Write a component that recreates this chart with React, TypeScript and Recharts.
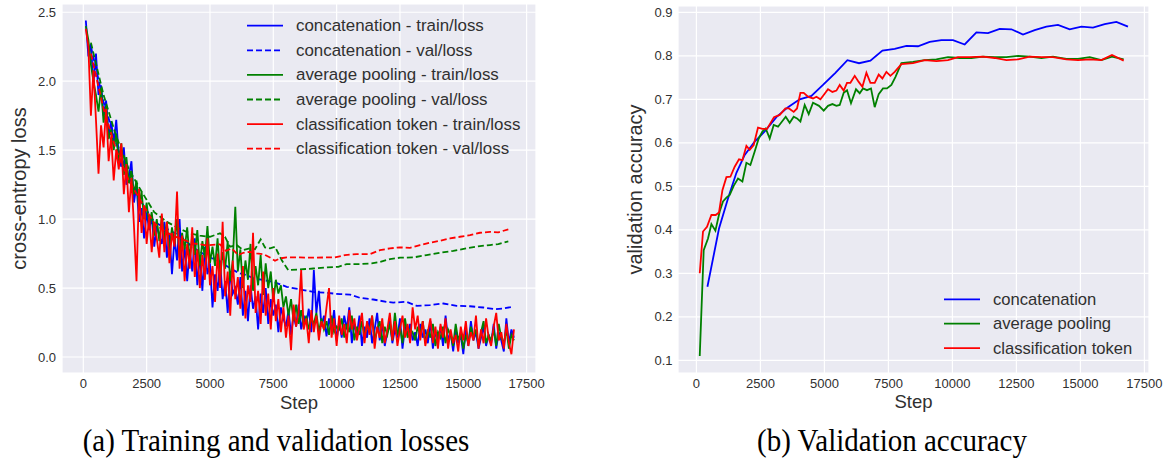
import React from "react";
import { LineChart, Line, XAxis, YAxis, CartesianGrid, Legend } from "recharts";

const BLUE = "#0000ff";
const GREEN = "#008000";
const RED = "#ff0000";
const FONT = "'Liberation Sans', Arial, sans-serif";
const INK = "#303030";

// ---- (a) losses ----
const stepTicks = [0, 2500, 5000, 7500, 10000, 12500, 15000, 17500];
const lossTicks = [0, 0.5, 1.0, 1.5, 2.0, 2.5];
const accTicks = [0.1, 0.2, 0.3, 0.4, 0.5, 0.6, 0.7, 0.8, 0.9];

// train loss is logged every 100 steps
const trainSteps = Array.from({ length: 170 }, (_, i) => (i + 1) * 100);

const concatTrain = [
  2.44, 2.18, 2.27, 1.98, 2.2, 1.9, 1.97, 1.75, 1.86, 1.6,
  1.71, 1.55, 1.72, 1.46, 1.38, 1.52, 1.25, 1.31, 1.42, 1.12,
  1.25, 0.98, 1.08, 0.86, 1.05, 0.92, 1.02, 0.8, 0.95, 0.88,
  0.82, 0.98, 0.72, 0.9, 0.6, 0.86, 0.7, 1.0, 0.62, 0.8,
  0.55, 0.78, 0.62, 0.86, 0.52, 0.74, 0.48, 0.8, 0.6, 0.68,
  0.36, 0.6, 0.48, 0.7, 0.42, 0.55, 0.32, 0.62, 0.46, 0.5,
  0.38, 0.58, 0.3, 0.48, 0.26, 0.52, 0.35, 0.44, 0.2, 0.46,
  0.32, 0.5, 0.24, 0.42, 0.3, 0.38, 0.18, 0.36, 0.28, 0.22,
  0.34, 0.16, 0.3, 0.22, 0.38, 0.2, 0.3, 0.24, 0.35, 0.18,
  0.63, 0.32, 0.48, 0.22, 0.3, 0.15, 0.28, 0.2, 0.34, 0.12,
  0.26, 0.14, 0.3, 0.2, 0.36, 0.1, 0.24, 0.16, 0.3, 0.08,
  0.22, 0.14, 0.28, 0.1, 0.2, 0.32, 0.12, 0.24, 0.08, 0.18,
  0.26, 0.1, 0.2, 0.14, 0.28, 0.06, 0.22, 0.16, 0.24, 0.12,
  0.18, 0.08, 0.24, 0.14, 0.2, 0.1, 0.26, 0.06, 0.18, 0.12,
  0.22, 0.08, 0.3, 0.12, 0.18, 0.04, 0.2, 0.1, 0.16, 0.02,
  0.2, 0.08, 0.26, 0.12, 0.18, 0.06, 0.14, 0.22, 0.08, 0.16,
  0.1, 0.24, 0.06, 0.18, 0.12, 0.04, 0.28, 0.1, 0.2, 0.14,
];

const avgTrain = [
  2.4, 2.3, 2.12, 2.0, 1.9, 1.78, 1.95, 1.7, 1.82, 1.58,
  1.65, 1.5, 1.62, 1.42, 1.55, 1.32, 1.45, 1.26, 1.35, 1.18,
  1.28, 1.08, 1.2, 1.0, 1.12, 0.95, 1.05, 0.88, 1.0, 0.84,
  1.02, 0.84, 0.98, 0.76, 0.94, 0.82, 1.0, 0.72, 0.9, 0.78,
  0.94, 0.7, 0.88, 0.74, 0.92, 0.66, 0.84, 0.72, 0.95, 0.68,
  0.8, 0.66, 0.86, 0.58, 0.76, 0.64, 0.84, 0.55, 0.7, 1.09,
  0.62, 0.78, 0.5, 0.7, 0.56, 0.82, 0.48, 0.66, 0.52, 0.74,
  0.45, 0.68, 0.5, 0.62, 0.4, 0.56, 0.46, 0.52, 0.36, 0.44,
  0.3, 0.42, 0.26, 0.38, 0.24, 0.34, 0.22, 0.3, 0.2, 0.28,
  0.24, 0.32, 0.18, 0.28, 0.2, 0.26, 0.16, 0.3, 0.18, 0.22,
  0.2, 0.28, 0.14, 0.24, 0.18, 0.3, 0.12, 0.22, 0.16, 0.26,
  0.14, 0.24, 0.18, 0.3, 0.12, 0.2, 0.26, 0.1, 0.22, 0.16,
  0.24, 0.12, 0.32, 0.16, 0.22, 0.1, 0.28, 0.14, 0.2, 0.18,
  0.12, 0.22, 0.16, 0.26, 0.1, 0.2, 0.14, 0.24, 0.08, 0.18,
  0.14, 0.22, 0.1, 0.2, 0.16, 0.08, 0.24, 0.12, 0.18, 0.06,
  0.16, 0.1, 0.22, 0.14, 0.2, 0.08, 0.18, 0.26, 0.1, 0.16,
  0.12, 0.2, 0.08, 0.24, 0.14, 0.1, 0.2, 0.06, 0.16, 0.12,
];

const clsTrain = [
  2.38, 2.25, 1.75, 2.08, 1.72, 1.33, 1.68, 1.52, 1.8, 1.42,
  1.6, 1.28, 1.5, 1.36, 1.55, 1.18, 1.4, 1.05, 1.3, 0.95,
  0.55, 1.22, 0.9, 1.1, 0.82, 1.02, 0.76, 0.98, 0.86, 0.72,
  1.04, 0.76, 0.98, 0.68, 0.9, 0.8, 1.2, 0.64, 0.88, 0.55,
  0.82, 0.64, 0.94, 0.58, 0.78, 0.5, 0.74, 0.56, 0.86, 0.52,
  0.66, 0.4, 0.75, 0.5, 0.98, 0.44, 0.62, 0.3, 0.7, 0.42,
  0.58, 0.35, 0.66, 0.28, 0.52, 0.4, 0.9, 0.32, 0.48, 0.24,
  0.62, 0.3, 0.46, 0.2, 0.5, 0.26, 0.42, 0.18, 0.36, 0.14,
  0.3, 0.05, 0.38, 0.22, 0.32, 0.63, 0.2, 0.28, 0.1, 0.34,
  0.18, 0.3, 0.12, 0.26, 0.2, 0.36, 0.5, 0.14, 0.28, 0.08,
  0.3, 0.16, 0.24, 0.1, 0.34, 0.2, 0.28, 0.12, 0.22, 0.32,
  0.1, 0.26, 0.16, 0.3, 0.06, 0.22, 0.14, 0.28, 0.1, 0.2,
  0.32, 0.12, 0.26, 0.08, 0.2, 0.3, 0.14, 0.24, 0.1, 0.36,
  0.2, 0.3, 0.12, 0.26, 0.08, 0.18, 0.28, 0.1, 0.22, 0.06,
  0.24, 0.14, 0.28, 0.06, 0.2, 0.1, 0.16, 0.04, 0.22, 0.12,
  0.26, 0.08, 0.18, 0.12, 0.3, 0.06, 0.2, 0.1, 0.28, 0.14,
  0.08, 0.22, 0.32, 0.12, 0.18, 0.06, 0.24, 0.1, 0.02, 0.2,
];

const concatValSteps = [
  300, 800, 1300, 1800, 2300, 2800, 3300, 3800, 4300, 4800, 5396, 5921, 6185,
  6449, 6712, 7107, 7502, 8028, 8553, 9080, 9606, 10132, 10527, 10921, 11448,
  11974, 12237, 12764, 13159, 13685, 14211, 14738, 15264, 15790, 16250, 16580, 16909,
];
const concatVal = [
  2.25, 1.85, 1.55, 1.3, 1.12, 0.98, 0.93, 0.88, 0.8, 0.74, 0.69, 0.63, 0.606,
  0.594, 0.57, 0.558, 0.545, 0.509, 0.49, 0.472, 0.465, 0.456, 0.453, 0.429, 0.417,
  0.4, 0.395, 0.4, 0.371, 0.376, 0.388, 0.371, 0.368, 0.359, 0.347, 0.352, 0.363,
];

const avgValSteps = [
  300, 800, 1300, 1800, 2300, 2800, 3300, 3800, 4211, 4600, 5001, 5396, 5593,
  5790, 6053, 6315, 6580, 6777, 7001, 7172, 7370, 7567, 7830, 8093, 8553, 9080,
  9606, 10066, 10396, 10921, 11382, 11711, 12106, 12501, 13027, 13553, 14080,
  14606, 15132, 15658, 16053, 16382, 16777,
];
const avgVal = [
  2.28, 1.9, 1.6, 1.36, 1.2, 1.05, 0.98, 0.93, 0.897, 0.88, 0.872, 0.897, 0.872,
  0.8, 0.812, 0.775, 0.788, 0.781, 0.853, 0.795, 0.788, 0.8, 0.703, 0.63, 0.635, 0.642,
  0.65, 0.654, 0.674, 0.674, 0.679, 0.69, 0.71, 0.72, 0.722, 0.739, 0.756,
  0.77, 0.788, 0.804, 0.812, 0.819, 0.838,
];

const clsValSteps = [
  300, 800, 1300, 1800, 2300, 2800, 3300, 3800, 4342, 4869, 5396, 5633, 5857,
  6118, 6315, 6580, 6844, 7107, 7370, 7567, 7764, 8028, 8553, 9080, 9606, 9935,
  10329, 10791, 11316, 11711, 12106, 12501, 12895, 13290, 13685, 14080, 14474,
  14869, 15264, 15658, 16053, 16382, 16777,
];
const clsVal = [
  2.2, 1.8, 1.5, 1.28, 1.12, 0.97, 0.9, 0.86, 0.824, 0.81, 0.817, 0.77, 0.788,
  0.739, 0.756, 0.763, 0.751, 0.746, 0.722, 0.698, 0.715, 0.722, 0.722, 0.72, 0.722, 0.722,
  0.739, 0.746, 0.746, 0.775, 0.788, 0.795, 0.792, 0.812, 0.829, 0.843, 0.86,
  0.872, 0.884, 0.901, 0.908, 0.904, 0.926,
];

// ---- (b) validation accuracy ----
const concatAccSteps = [
  430, 883, 1234, 1563, 1887, 2277, 2668, 3125, 3578, 4035, 4492, 4945, 5430,
  5898, 6352, 6797, 7266, 7746, 8203, 8656, 9113, 9570, 10023, 10480, 10937,
  11391, 11848, 12305, 12758, 13215, 13672, 14125, 14582, 15039, 15492, 15949,
  16406, 16859,
];
const concatAcc = [
  0.269, 0.403, 0.472, 0.531, 0.572, 0.603, 0.626, 0.659, 0.682, 0.7, 0.708, 0.733, 0.761,
  0.79, 0.783, 0.789, 0.812, 0.816, 0.823, 0.822, 0.832, 0.836, 0.836, 0.826, 0.854,
  0.852, 0.862, 0.861, 0.849, 0.859, 0.867, 0.871, 0.861, 0.867, 0.865, 0.873,
  0.878, 0.867,
];

const avgAccSteps = [
  130, 285, 453, 586, 742, 910, 1039, 1172, 1301, 1457, 1625, 1797, 1953, 2109,
  2277, 2434, 2578, 2707, 2863, 3020, 3188, 3488, 3644, 3801, 3930, 4063, 4230,
  4387, 4555, 4789, 4973, 5141, 5313, 5469, 5598, 5754, 5883, 6039, 6234, 6379,
  6508, 6664, 6820, 6965, 7121, 7289, 7445, 7617, 7773, 8008, 8461, 8918, 9375,
  9828, 10285, 10742, 11196, 11652, 12109, 12563, 13020, 13477, 13930, 14453,
  14906, 15363, 15820, 16234, 16691,
];
const avgAcc = [
  0.11, 0.353, 0.38, 0.413, 0.398, 0.442, 0.465, 0.474, 0.48, 0.501, 0.518, 0.511, 0.554, 0.549,
  0.58, 0.61, 0.626, 0.633, 0.61, 0.641, 0.637, 0.66, 0.646, 0.66, 0.656, 0.649, 0.687,
  0.666, 0.692, 0.685, 0.674, 0.685, 0.689, 0.685, 0.687, 0.715, 0.721, 0.691, 0.723, 0.714,
  0.725, 0.721, 0.725, 0.682, 0.712, 0.725, 0.725, 0.733, 0.751, 0.783, 0.786, 0.79, 0.792,
  0.797, 0.795, 0.795, 0.798, 0.797, 0.797, 0.8, 0.798, 0.795, 0.798, 0.793,
  0.793, 0.797, 0.79, 0.798, 0.792,
];

const clsAccSteps = [
  130, 258, 414, 586, 754, 883, 1016, 1172, 1328, 1496, 1664, 1797, 1953, 2082,
  2238, 2406, 2578, 2758, 3031, 3254, 3477, 3617, 3801, 3930, 4063, 4191, 4360,
  4555, 4688, 4844, 4973, 5141, 5313, 5469, 5598, 5754, 5883, 6016, 6184, 6340,
  6484, 6641, 6797, 6965, 7121, 7266, 7422, 7578, 7746, 8008, 8461, 8918, 9375,
  9828, 10219, 10676, 11196, 11652, 12109, 12563, 13020, 13477, 13930, 14453,
  14906, 15363, 15820, 16234, 16691,
];
const clsAcc = [
  0.3, 0.396, 0.407, 0.434, 0.434, 0.44, 0.491, 0.521, 0.522, 0.545, 0.562, 0.56, 0.593, 0.584,
  0.595, 0.635, 0.632, 0.632, 0.659, 0.664, 0.679, 0.679, 0.671, 0.679, 0.715, 0.715, 0.706,
  0.702, 0.706, 0.7, 0.71, 0.723, 0.717, 0.72, 0.733, 0.72, 0.738, 0.738, 0.754, 0.74,
  0.729, 0.761, 0.738, 0.738, 0.757, 0.748, 0.763, 0.754, 0.763, 0.781, 0.783, 0.79, 0.788,
  0.79, 0.797, 0.797, 0.798, 0.795, 0.79, 0.792, 0.798, 0.797, 0.797, 0.792,
  0.79, 0.792, 0.79, 0.802, 0.789,
];

const lossLegend = [
  { name: "concatenation - train/loss", color: BLUE, dashed: false },
  { name: "concatenation - val/loss", color: BLUE, dashed: true },
  { name: "average pooling - train/loss", color: GREEN, dashed: false },
  { name: "average pooling - val/loss", color: GREEN, dashed: true },
  { name: "classification token - train/loss", color: RED, dashed: false },
  { name: "classification token - val/loss", color: RED, dashed: true },
];
const accLegend = [
  { name: "concatenation", color: BLUE, dashed: false },
  { name: "average pooling", color: GREEN, dashed: false },
  { name: "classification token", color: RED, dashed: false },
];

const toPoints = (steps: number[], values: number[]) =>
  steps.map((step, i) => ({ step, value: values[i] }));

const DASH = "6 3";
const LW = 1.8;

function LegendBox({ items, w, h, x0, y0, gap, fs }: any) {
  return (
    <svg width={w} height={h} style={{ display: "block" }}>
      {items.map((it: any, i: number) => {
        const y = y0 + i * gap;
        return (
          <g key={it.name}>
            <line x1={x0} x2={x0 + 36} y1={y} y2={y} stroke={it.color} strokeWidth={LW}
              strokeDasharray={it.dashed ? DASH : undefined} />
            <text x={x0 + 49} y={y} dominantBaseline="central" fontFamily={FONT} fontSize={fs} fill={INK}>
              {it.name}
            </text>
          </g>
        );
      })}
    </svg>
  );
}

const tickStyle = { fontSize: 13, fill: INK, fontFamily: FONT };

function AxisTitle({ x, y, text, rotate }: { x: number; y: number; text: string; rotate?: boolean }) {
  return (
    <text
      x={0}
      y={0}
      transform={`translate(${x},${y})${rotate ? " rotate(-90)" : ""}`}
      textAnchor="middle"
      fontFamily={FONT}
      fontSize={rotate ? 20 : 18.5}
      fill={INK}
    >
      {text}
    </text>
  );
}

const captionStyle: React.CSSProperties = {
  position: "absolute",
  width: 440,
  top: 424,
  textAlign: "center",
  fontFamily: "'Liberation Serif', 'Times New Roman', serif",
  fontSize: 29,
  color: "#000",
  transform: "scaleY(1.12)",
  whiteSpace: "nowrap",
};

export default function App() {
  return (
    <div style={{ position: "absolute", left: 0, top: 0, width: 1168, height: 465, background: "#fff" }}>
      <div style={{ position: "absolute", left: 0, top: 0 }}>
        <LineChart width={545} height={420} margin={{ top: 4, right: 9, bottom: 0, left: 0 }}>
          <CartesianGrid fill="#eaeaf2" stroke="#ffffff" strokeWidth={1.2} />
          <XAxis
            dataKey="step"
            type="number"
            domain={[-841, 17870]}
            ticks={stepTicks}
            allowDataOverflow
            axisLine={false}
            tickLine={false}
            tickSize={0}
            tickMargin={6}
            height={47}
            tick={tickStyle}
            label={() => <AxisTitle x={299} y={409} text="Step" />}
          />
          <YAxis
            type="number"
            domain={[-0.116, 2.56]}
            ticks={lossTicks}
            allowDataOverflow
            tickFormatter={(v: number) => v.toFixed(1)}
            axisLine={false}
            tickLine={false}
            tickSize={0}
            tickMargin={6}
            width={62}
            tick={tickStyle}
            label={() => <AxisTitle x={26} y={188.5} text="cross-entropy loss" rotate />}
          />
          <Line data={toPoints(trainSteps, concatTrain)} dataKey="value" stroke={BLUE} strokeWidth={LW} dot={false} isAnimationActive={false} />
          <Line data={toPoints(concatValSteps, concatVal)} dataKey="value" stroke={BLUE} strokeWidth={LW} strokeDasharray={DASH} dot={false} isAnimationActive={false} />
          <Line data={toPoints(trainSteps, avgTrain)} dataKey="value" stroke={GREEN} strokeWidth={LW} dot={false} isAnimationActive={false} />
          <Line data={toPoints(avgValSteps, avgVal)} dataKey="value" stroke={GREEN} strokeWidth={LW} strokeDasharray={DASH} dot={false} isAnimationActive={false} />
          <Line data={toPoints(trainSteps, clsTrain)} dataKey="value" stroke={RED} strokeWidth={LW} dot={false} isAnimationActive={false} />
          <Line data={toPoints(clsValSteps, clsVal)} dataKey="value" stroke={RED} strokeWidth={LW} strokeDasharray={DASH} dot={false} isAnimationActive={false} />
          <Legend
            layout="vertical"
            align="center"
            verticalAlign="middle"
            wrapperStyle={{ left: 0, top: 0, width: 545, height: 170 }}
            content={() => <LegendBox items={lossLegend} w={545} h={170} x0={247} y0={25.7} gap={24.6} fs={16.9} />}
          />
        </LineChart>
      </div>

      <div style={{ position: "absolute", left: 590, top: 0 }}>
        <LineChart width={578} height={420} margin={{ top: 6, right: 19, bottom: 0, left: 0 }}>
          <CartesianGrid fill="#eaeaf2" stroke="#ffffff" strokeWidth={1.2} />
          <XAxis
            dataKey="step"
            type="number"
            domain={[-719, 17680]}
            ticks={stepTicks}
            allowDataOverflow
            axisLine={false}
            tickLine={false}
            tickSize={0}
            tickMargin={6}
            height={47}
            tick={tickStyle}
            label={() => <AxisTitle x={323.5} y={408} text="Step" />}
          />
          <YAxis
            type="number"
            domain={[0.0708, 0.9145]}
            ticks={accTicks}
            allowDataOverflow
            tickFormatter={(v: number) => v.toFixed(1)}
            axisLine={false}
            tickLine={false}
            tickSize={0}
            tickMargin={5.5}
            width={88}
            tick={tickStyle}
            label={() => <AxisTitle x={52} y={189.5} text="validation accuracy" rotate />}
          />
          <Line data={toPoints(concatAccSteps, concatAcc)} dataKey="value" stroke={BLUE} strokeWidth={LW} dot={false} isAnimationActive={false} />
          <Line data={toPoints(avgAccSteps, avgAcc)} dataKey="value" stroke={GREEN} strokeWidth={LW} dot={false} isAnimationActive={false} />
          <Line data={toPoints(clsAccSteps, clsAcc)} dataKey="value" stroke={RED} strokeWidth={LW} dot={false} isAnimationActive={false} />
          <Legend
            layout="vertical"
            align="center"
            verticalAlign="middle"
            wrapperStyle={{ left: 0, top: 0, width: 578, height: 380 }}
            content={() => <LegendBox items={accLegend} w={578} h={380} x0={354} y0={299.3} gap={24.4} fs={16.6} />}
          />
        </LineChart>
      </div>

      <div style={{ ...captionStyle, left: 56 }}>(a) Training and validation losses</div>
      <div style={{ ...captionStyle, left: 672 }}>(b) Validation accuracy</div>
    </div>
  );
}
